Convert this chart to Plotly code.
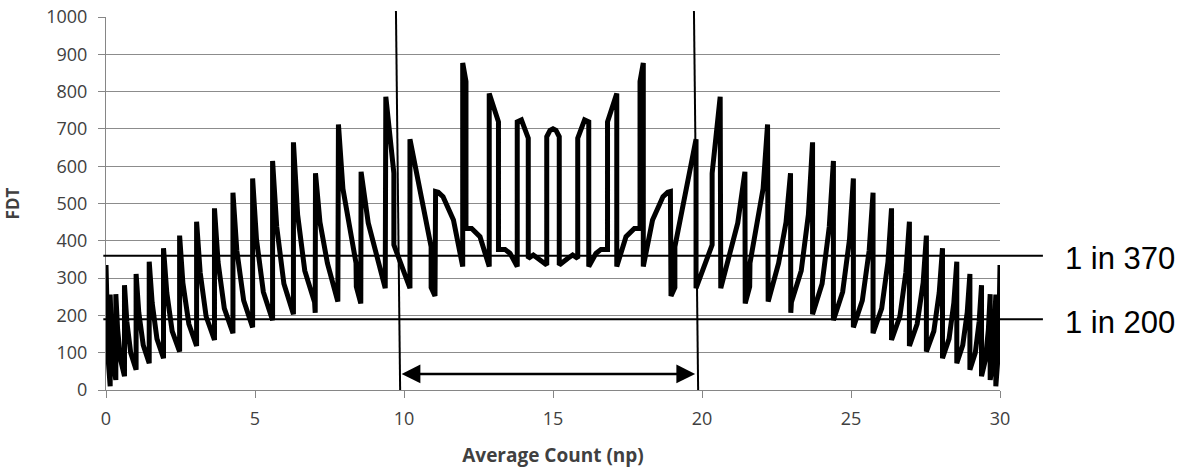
import plotly.graph_objects as go

# FDT curve
np_x = [0.00, 0.03, 0.08, 0.14, 0.14, 0.18, 0.24, 0.33, 0.33, 0.39, 0.49, 0.62, 0.62, 0.70, 0.83, 1.01,
        1.01, 1.10, 1.25, 1.45, 1.45, 1.55, 1.71, 1.93, 1.93, 2.04, 2.22, 2.47, 2.47, 2.58, 2.78, 3.04,
        3.04, 3.16, 3.36, 3.64, 3.64, 3.76, 3.97, 4.26, 4.26, 4.39, 4.62, 4.92, 4.92, 5.05, 5.28, 5.59,
        5.59, 5.73, 5.97, 6.29, 6.29, 6.43, 6.67, 7.00, 7.02, 7.03, 7.18, 7.43, 7.78, 7.80, 7.95, 8.39,
        8.40, 8.55, 8.56, 8.80, 9.37, 9.39, 9.66, 9.66, 10.20, 10.20, 10.91, 10.91, 11.04, 11.06, 11.15,
        11.31, 11.66, 11.97, 11.97, 12.08, 12.08, 12.27, 12.55, 12.86, 12.86, 13.17, 13.17, 13.39, 13.56,
        13.80, 13.80, 13.94, 14.17, 14.17, 14.34, 14.50, 14.79, 14.79, 14.90, 15.00, 15.10, 15.21, 15.21,
        15.50, 15.66, 15.83, 15.83, 16.06, 16.20, 16.20, 16.44, 16.61, 16.83, 16.83, 17.14, 17.14, 17.45,
        17.73, 17.92, 17.92, 18.03, 18.03, 18.34, 18.69, 18.85, 18.94, 18.96, 19.09, 19.09, 19.80, 19.80,
        20.34, 20.34, 20.61, 20.63, 21.20, 21.44, 21.45, 21.60, 21.61, 22.05, 22.20, 22.22, 22.57, 22.82,
        22.97, 22.98, 23.00, 23.33, 23.57, 23.71, 23.71, 24.03, 24.27, 24.41, 24.41, 24.72, 24.95, 25.08,
        25.08, 25.38, 25.61, 25.74, 25.74, 26.03, 26.24, 26.36, 26.36, 26.64, 26.84, 26.96, 26.96, 27.22,
        27.42, 27.53, 27.53, 27.78, 27.96, 28.07, 28.07, 28.29, 28.45, 28.55, 28.55, 28.75, 28.90, 28.99,
        28.99, 29.17, 29.30, 29.38, 29.38, 29.51, 29.61, 29.67, 29.67, 29.76, 29.82, 29.86, 29.86, 29.92,
        29.97, 30.00]
fdt_y = [335, 195, 75, 10, 256, 158, 73, 27, 257, 162, 81, 37, 281, 183, 99, 54,
         311, 208, 120, 72, 344, 233, 137, 85, 380, 261, 158, 103, 414, 287, 177, 118,
         451, 315, 197, 134, 487, 343, 219, 152, 529, 374, 240, 168, 567, 404, 263, 187,
         614, 437, 285, 203, 664, 470, 320, 235, 207, 581, 450, 340, 237, 712, 540, 340,
         277, 232, 585, 448, 273, 786, 581, 389, 273, 672, 384, 275, 252, 532, 530,
         518, 456, 331, 877, 827, 433, 433, 411, 331, 795, 719, 377, 377, 366,
         331, 719, 724, 675, 353, 362, 353, 335, 679, 696, 700, 696, 679, 335,
         353, 362, 353, 675, 724, 719, 331, 366, 377, 377, 719, 795, 331, 411,
         433, 433, 827, 877, 331, 456, 518, 530, 532, 252, 275, 384, 672, 273,
         389, 581, 786, 273, 448, 585, 232, 277, 340, 540, 712, 237, 340, 450,
         581, 207, 235, 320, 470, 664, 203, 285, 437, 614, 187, 263, 404, 567,
         168, 240, 374, 529, 152, 219, 343, 487, 134, 197, 315, 451, 118, 177,
         287, 414, 103, 158, 261, 380, 85, 137, 233, 344, 72, 120, 208, 311,
         54, 99, 183, 281, 37, 81, 162, 257, 27, 73, 158, 256, 10, 75,
         195, 335]

# Reference levels and labels
ref_levels = [360, 190]
ref_labels = ["1 in 370", "1 in 200"]

# Vertical markers (bottom x, top x) and their top value
vline_bottom_x = [9.87, 19.87]
vline_top_x = [9.73, 19.73]
vline_top_y = 1016

# Double arrow between the markers
arrow_x = [9.87, 19.77]
arrow_y = 43

x_ticks = [0, 5, 10, 15, 20, 25, 30]
y_ticks = [0, 100, 200, 300, 400, 500, 600, 700, 800, 900, 1000]

X_RANGE = [0, 30]
Y_RANGE = [0, 1000]

fig = go.Figure()
fig.add_trace(go.Scatter(x=np_x, y=fdt_y, mode="lines",
                         line=dict(color="black", width=5),
                         showlegend=False, hoverinfo="skip"))

font_tick = dict(family="Open Sans", size=18, color="#404040")

for lvl, lab in zip(ref_levels, ref_labels):
    fig.add_shape(type="line", xref="paper", yref="y", x0=-0.003, x1=1.048, y0=lvl, y1=lvl,
                  line=dict(color="black", width=2), layer="above")
    fig.add_annotation(xref="paper", yref="y", x=1.07, y=lvl, text=lab, showarrow=False,
                       xanchor="left", yanchor="middle", yshift=-3,
                       font=dict(family="Liberation Sans, Arial", size=31, color="black"))

# vertical markers extend above the plot area, so they use the paper scale vertically
for xb, xt in zip(vline_bottom_x, vline_top_x):
    fig.add_shape(type="line", xref="x", yref="paper", x0=xb, x1=xt,
                  y0=(0 - Y_RANGE[0]) / (Y_RANGE[1] - Y_RANGE[0]),
                  y1=(vline_top_y - Y_RANGE[0]) / (Y_RANGE[1] - Y_RANGE[0]),
                  line=dict(color="black", width=2), layer="above")

fig.add_annotation(x=arrow_x[1], y=arrow_y, ax=arrow_x[0], ay=arrow_y, xref="x", yref="y",
                   axref="x", ayref="y", text="", showarrow=True, arrowhead=2, arrowside="end+start",
                   arrowsize=1.5, arrowwidth=2.5, arrowcolor="black", standoff=0, startstandoff=0)

fig.update_layout(
    width=1187, height=469, autosize=False,
    margin=dict(l=106, r=187, t=17, b=79, autoexpand=False),
    paper_bgcolor="white", plot_bgcolor="white",
    showlegend=False,
)
fig.update_xaxes(range=X_RANGE, tickvals=x_ticks, ticktext=[str(v) for v in x_ticks],
                 showgrid=False, zeroline=False, showline=True, linecolor="#868686", linewidth=1,
                 ticks="outside", ticklen=7, tickcolor="#868686", tickfont=font_tick,
                 ticklabelstandoff=5, automargin=False, ticklabeloverflow="allow",
                 title=dict(text="<b>Average Count (np)</b>", font=dict(family="Open Sans", size=19, color="#404040"), standoff=20))
fig.update_yaxes(range=Y_RANGE, tickvals=y_ticks, ticktext=[str(v) for v in y_ticks],
                 showgrid=True, gridcolor="#8c8c8c", gridwidth=1, zeroline=False,
                 showline=True, linecolor="#868686", linewidth=1,
                 ticks="outside", ticklen=7, tickcolor="#868686", tickfont=font_tick,
                 ticklabelstandoff=7, automargin=False, ticklabeloverflow="allow",
                 title=dict(text="<b>FDT</b>", font=dict(family="Open Sans", size=17, color="#404040"), standoff=22))

# remove the page's default body margin so the 1187x469 figure fills the window exactly
fig.write_html("out.html", config={"displayModeBar": False, "staticPlot": True},
               post_script="document.body.style.margin='0px';")
